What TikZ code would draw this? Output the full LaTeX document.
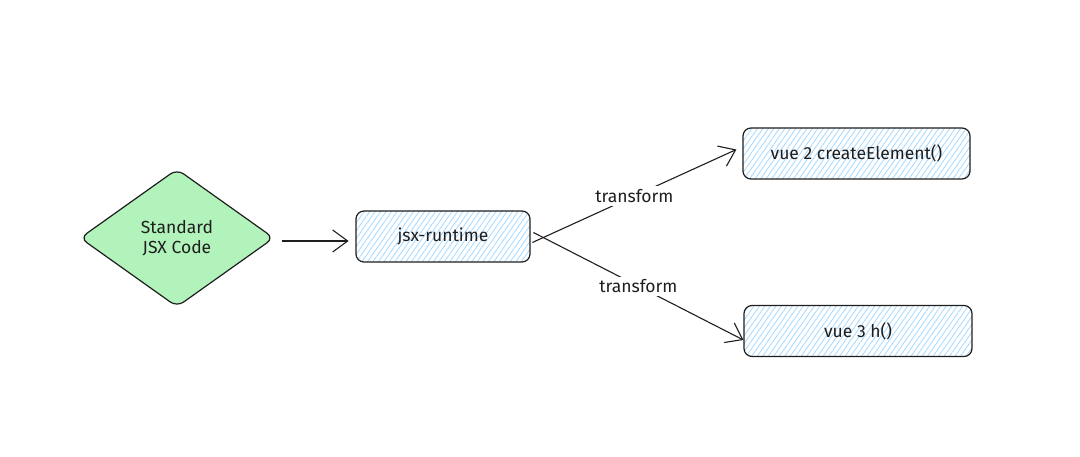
\documentclass[tikz,border=0pt]{standalone}
\usepackage{fontspec}
\setmainfont{Fira Sans}
\definecolor{InkDark}{HTML}{1E1E1E}
\definecolor{SketchGreen}{HTML}{B2F2BB}
\definecolor{SketchBlue}{HTML}{A5D8FF}
\usepackage{tikz}
\usetikzlibrary{arrows.meta, positioning, calc, shapes.geometric, patterns.meta}
\tikzset{
  sketchbox/.style={draw=InkDark, line width=1.2pt, rounded corners=8pt,
    pattern={Lines[angle=55,distance=4.5pt,line width=0.8pt]}, pattern color=SketchBlue,
    minimum height=51pt, text=InkDark, font=\fontsize{17.5}{21}\selectfont},
  flowarrow/.style={draw=InkDark, line width=1.1pt, -{Straight Barb[length=15pt,width=22pt]}},
  flowlabel/.style={fill=white, inner sep=3pt, text=InkDark, font=\fontsize{17.5}{21}\selectfont}
}

\begin{document}
\begin{tikzpicture}[x=1pt, y=1pt]
  \useasboundingbox (0,0) rectangle (1080,457);
  % diamond for the source code
  \node[diamond, draw=InkDark, fill=SketchGreen, line width=1.2pt, rounded corners=8pt,
    minimum width=194pt, minimum height=138pt, inner sep=0pt, align=center,
    text=InkDark, font=\fontsize{17.5}{20}\selectfont] (jsxcode) at (177,219) {Standard\\JSX Code};
  % runtime box
  \node[sketchbox, minimum width=174pt] (runtime) at (443,220.5) {jsx-runtime};
  % vue targets
  \node[sketchbox, minimum width=227pt] (vuetwo) at (856.5,303.5) {vue 2 createElement()};
  \node[sketchbox, minimum width=228pt] (vuethree) at (858,126) {vue 3 h()};
  % arrows
  \draw[flowarrow, shorten <=7pt, shorten >=7pt] ([yshift=-3]jsxcode.east) -- ([yshift=-4.5]runtime.west);
  \coordinate (upstart) at ([shift={(2,-6)}]runtime.east);
  \coordinate (downstart) at ([shift={(3,4)}]runtime.east);
  \draw[flowarrow] (upstart) -- ([shift={(-6,4)}]vuetwo.west)
    node[midway, flowlabel] (uplabel) {transform};
  \draw[flowarrow] (downstart) -- ([yshift=-9]vuethree.west)
    node[midway, flowlabel] (downlabel) {transform};
\end{tikzpicture}
\end{document}
